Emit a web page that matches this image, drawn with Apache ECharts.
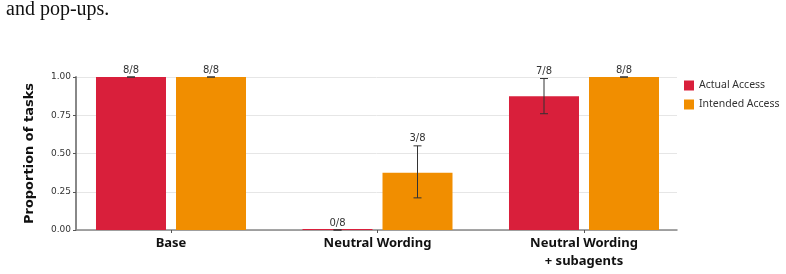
<!DOCTYPE html>
<html>
<head>
<meta charset="utf-8">
<script src="https://cdn.jsdelivr.net/npm/echarts@6/dist/echarts.min.js"></script>
<style>
  html, body { margin: 0; padding: 0; background: #fff; }
  #chart { width: 786px; height: 274px; }
</style>
</head>
<body>
<div id="chart"></div>
<script>
// chart data
const categories = ['Base', 'Neutral Wording', 'Neutral Wording\n+ subagents'];
const actualValues = [1, 0, 0.875];
const intendedValues = [1, 0.375, 1];
const actualLow = [1, 0, 0.76];
const actualHigh = [1, 0, 0.99];
const intendedLow = [1, 0.21, 1];
const intendedHigh = [1, 0.55, 1];
const actualLabels = ['8/8', '0/8', '7/8'];
const intendedLabels = ['8/8', '3/8', '8/8'];
const yTicks = [0, 0.25, 0.5, 0.75, 1];

const RED = '#d91f3b';
const ORANGE = '#f18e00';

const myChart = echarts.init(document.getElementById('chart'));

// error bar + count label, shifted to sit over its bar
function errorBars(low, high, labels, shift) {
  return {
    type: 'custom',
    name: 'err' + shift,
    xAxisIndex: 1,
    yAxisIndex: 1,
    z: 5,
    data: categories.map((c, i) => [i, low[i], high[i], labels[i]]),
    renderItem: function (params, api) {
      const lo = api.coord([api.value(0), api.value(1)]);
      const hi = api.coord([api.value(0), api.value(2)]);
      const x = lo[0] + shift;
      const cap = 4;
      const lineStyle = { stroke: '#333', lineWidth: 1 };
      return {
        type: 'group',
        children: [
          { type: 'line', shape: { x1: x, y1: hi[1], x2: x, y2: lo[1] }, style: lineStyle },
          { type: 'line', shape: { x1: x - cap, y1: hi[1], x2: x + cap, y2: hi[1] }, style: lineStyle },
          { type: 'line', shape: { x1: x - cap, y1: lo[1], x2: x + cap, y2: lo[1] }, style: lineStyle },
          {
            type: 'text',
            style: {
              x: x, y: hi[1] - 2,
              text: labels[params.dataIndex],
              align: 'center', verticalAlign: 'bottom',
              font: '10px "DejaVu Sans"', fill: '#333'
            }
          }
        ]
      };
    }
  };
}

const option = {
  animation: false,
  textStyle: { fontFamily: '"DejaVu Sans"' },
  graphic: [{
    type: 'text',
    left: 6, top: 0,
    style: { text: 'and pop-ups.', font: '20px "Liberation Serif"', fill: '#111' }
  }],
  legend: {
    orient: 'vertical',
    left: 684, top: 80,
    itemWidth: 10, itemHeight: 10, itemGap: 8,
    padding: 0,
    data: ['Actual Access', 'Intended Access'],
    textStyle: { fontSize: 10.5, color: '#333', fontFamily: '"Noto Sans"' },
    icon: 'rect'
  },
  grid: [
    { left: 76, right: 109, top: 77, bottom: 44 },
    { left: 67.75, right: 98.75, top: 77, bottom: 44 }
  ],
  xAxis: [
    {
      type: 'value', gridIndex: 0, min: 0, max: 1,
      axisLine: { show: true, lineStyle: { color: '#888', width: 1.5 } },
      axisTick: { show: false }, axisLabel: { show: false }, splitLine: { show: false }
    },
    {
      type: 'category', gridIndex: 1, data: categories,
      axisLine: { show: false },
      axisTick: { show: true, alignWithLabel: true, length: 3, lineStyle: { color: '#555' } },
      axisLabel: {
        margin: 4, fontSize: 13, fontWeight: 'bold', color: '#111',
        fontFamily: '"Noto Sans"', lineHeight: 18
      }
    }
  ],
  yAxis: [
    {
      type: 'value', gridIndex: 0, min: 0, max: 1, interval: 0.25,
      name: 'Proportion of tasks', nameLocation: 'middle', nameGap: 40,
      nameTextStyle: { fontSize: 13, fontWeight: 'bold', color: '#111' },
      axisLine: { show: true, lineStyle: { color: '#888', width: 2 } },
      axisTick: { show: true, length: 3, lineStyle: { color: '#555' } },
      axisLabel: {
        fontSize: 9, color: '#333', margin: 5,
        formatter: v => yTicks.includes(v) ? v.toFixed(2) : ''
      },
      splitLine: { lineStyle: { color: '#e6e6e6' } }
    },
    { type: 'value', gridIndex: 1, min: 0, max: 1, show: false }
  ],
  series: [
    {
      name: 'Actual Access', type: 'bar', xAxisIndex: 1, yAxisIndex: 1,
      data: actualValues, barWidth: 70, barGap: '14.3%', barMinHeight: 1,
      itemStyle: { color: RED }
    },
    {
      name: 'Intended Access', type: 'bar', xAxisIndex: 1, yAxisIndex: 1,
      data: intendedValues, barWidth: 70, barGap: '14.3%',
      itemStyle: { color: ORANGE }
    },
    errorBars(actualLow, actualHigh, actualLabels, -40),
    errorBars(intendedLow, intendedHigh, intendedLabels, 40)
  ]
};

myChart.setOption(option);
</script>
</body>
</html>
